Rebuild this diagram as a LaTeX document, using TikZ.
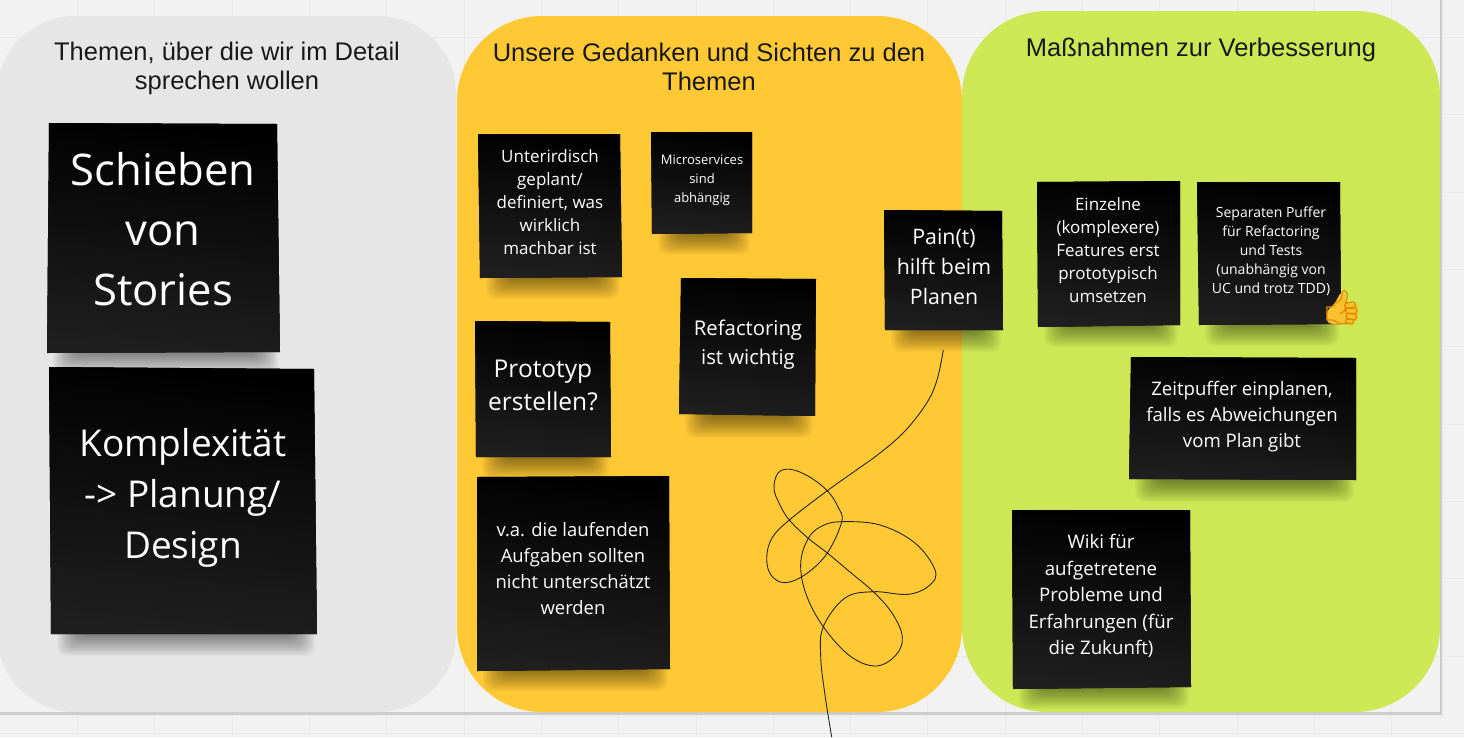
\documentclass[tikz,border=0pt]{standalone}
\usepackage{fontspec}
\setmainfont{Liberation Sans}
\newfontfamily\notefont{Open Sans}
\newfontfamily\emojifont{Noto Emoji}
\usepackage{tikz}
\usetikzlibrary{calc}
\definecolor{boardbg}{HTML}{F2F2F2}
\definecolor{gridline}{HTML}{E9E9E9}
\definecolor{greypanel}{HTML}{E6E6E6}
\definecolor{orangepanel}{HTML}{FFC936}
\definecolor{greenpanel}{HTML}{CEE855}
\definecolor{noteend}{HTML}{1F1F1F}
\definecolor{thumbfill}{HTML}{FBC02D}
\definecolor{thumbedge}{HTML}{E08A00}
\tikzstyle{panel} = [rounded corners=85pt]
\tikzstyle{paneltitle} = [text=black!90, align=center, inner sep=0pt, font=\fontsize{25.5}{29}\selectfont]
\tikzstyle{notepaper} = [shading=axis, top color=black, middle color=black, bottom color=noteend, shading angle=-6]
\tikzstyle{notetext} = [text=white, align=center, inner sep=0pt]
\tikzstyle{noteshadow} = [black, opacity=.026, rounded corners=9pt]
% name, four corners, text centre, font size, line distance, text
\newcommand{\sticky}[9]{
    \coordinate (#1-a) at (#2);
    \coordinate (#1-b) at (#3);
    \coordinate (#1-c) at (#4);
    \coordinate (#1-d) at (#5);
    \foreach \k in {0,...,17}
        \fill[noteshadow] ($(#1-d)+(6+\k*1.3,-14)$) rectangle ($(#1-c)+(-2-\k*1.3,22-\k*1.2)$);
    \fill[notepaper] (#1-a) -- (#1-b) -- (#1-c) -- (#1-d) -- cycle;
    \node (#1) [notetext, font=\notefont\fontsize{#7}{#8}\selectfont] at (#6) {#9};
}

\begin{document}
\begin{tikzpicture}[x=1pt, y=-1pt]
    \useasboundingbox (0,0) rectangle (1464,737);
    \clip (0,0) rectangle (1464,737);
    \fill[boardbg] (0,0) rectangle (1464,737);
    \foreach \i in {1,...,18}
        \draw[gridline] (77.3*\i,0) -- (77.3*\i,737);
    \foreach \i in {0,...,9}
        \draw[gridline] (0,733-77.3*\i) -- (1464,733-77.3*\i);
    % board edge
    \fill[black!20] (0,712) rectangle (1442,714.5);
    \fill[black!20] (1440,0) rectangle (1442,714.5);
    \fill[black!7] (0,714.5) rectangle (1444,717);
    \fill[black!7] (1442,0) rectangle (1444,717);

    \fill[greypanel, rounded corners=78pt] (-3,16) rectangle (456,712);
    \fill[orangepanel, panel] (457,16) rectangle (962,712);
    \fill[greenpanel, panel] (962,11) rectangle (1440,712);

    \node (title1) [paneltitle] at (227,68) {Themen, über die wir im Detail\\sprechen wollen};
    \node (title2) [paneltitle] at (709,67) {Unsere Gedanken und Sichten zu den\\Themen};
    \node (title3) [paneltitle] at (1201,50) {Maßnahmen zur Verbesserung};

    \sticky{stories}{49,123}{277,124}{280,352}{47,353}{163,229}{43.6}{60}{Schieben\\von\\Stories}
    \sticky{complex}{49,367}{314,369}{317,634}{51,634}{183,498}{37}{51}{Komplexität\\-> Planung/\\Design}

    \sticky{planned}{478,134}{620,134}{622,277}{480,278}{550,202}{17}{23}{Unterirdisch\\geplant/\\definiert, was\\wirklich\\machbar ist}
    \sticky{micro}{651,132}{752,132}{752,233}{652,234}{702,180}{13}{19}{Microservices\\sind\\abhängig}
    \sticky{refactor}{681,278}{816,279}{815,416}{679,414}{748,345}{20.3}{29}{Refactoring\\ist wichtig}
    \sticky{proto}{475,321}{610,322}{611,457}{476,457}{543,385}{24.5}{33}{Prototyp\\erstellen?}
    \sticky{tasks}{477,477}{669,476}{670,669}{477,671}{573,569}{18.4}{26}{v.a. die laufenden\\Aufgaben sollten\\nicht unterschätzt\\werden}

    \sticky{pain}{884,210}{1002,211}{1003,330}{885,330}{944,267}{21.3}{30}{Pain(t)\\hilft beim\\Planen}
    \sticky{features}{1037,182}{1180,181}{1180,325}{1038,327}{1108,250}{17}{23}{Einzelne\\(komplexere)\\Features erst\\prototypisch\\umsetzen}
    \sticky{buffer}{1197,182}{1340,182}{1341,324}{1199,325}{1271,251}{14}{19}{Separaten Puffer\\für Refactoring\\und Tests\\(unabhängig von\\UC und trotz TDD)}
    \sticky{time}{1131,357}{1356,358}{1356,480}{1129,479}{1242,417}{18.6}{26}{Zeitpuffer einplanen,\\falls es Abweichungen\\vom Plan gibt}
    \sticky{wiki}{1012,510}{1190,510}{1191,687}{1013,689}{1101,596}{18.7}{26.5}{Wiki für\\aufgetretene\\Probleme und\\Erfahrungen (für\\die Zukunft)}

    % thumb on the buffer note
    \fill[thumbfill, rounded corners=3pt] (1327,311) -- (1335,303) -- (1341,292) -- (1346,294) -- (1345,303) -- (1358,304) -- (1358,320) -- (1351,324) -- (1331,324) -- (1327,322) -- cycle;
    \node (thumb) [text=thumbedge, inner sep=0pt, font=\emojifont\fontsize{34}{34}\selectfont] at (1342,308) {👍};

    % the scribble
    \draw[black!85, line width=.9pt] plot[smooth, tension=.62] coordinates {
        (943.3,350) (937,380) (926.7,403) (905,431) (880,453) (855,471) (827.3,490.7) (789.3,520) (772,538) (766.7,558) (771,575) (785,582.7)
        (806,574) (827.3,553) (841.7,521.7) (838,507) (827.3,490.7) (808,476) (790,469.3) (778,473) (774,488.3) (779,503) (789.3,520)
        (808.3,538.3) (827.3,553) (850,572) (873.3,591.7) (892,613) (902.3,636.7) (896,655) (876,666) (850,656) (823.3,626.7) (806,594) (800.7,563.3)
        (808.3,538.3) (822,526) (841.7,521.7) (880,525) (915,543) (935,570) (930,585) (908.3,594.3) (873.3,591.7) (845,598) (823.3,626.7) (820.7,656.7) (825,695) (831.7,737)
    };
\end{tikzpicture}
\end{document}
